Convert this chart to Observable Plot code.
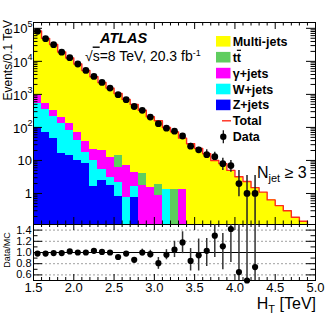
<!DOCTYPE html>
<html><head><meta charset="utf-8">
<script src="https://cdn.jsdelivr.net/npm/d3@7"></script>
<script src="https://cdn.jsdelivr.net/npm/@observablehq/plot@0.6"></script>
<style>
body{margin:0;background:#fff;}
#chart{position:relative;width:332px;height:320px;overflow:hidden;font-family:"Liberation Sans",Arial,sans-serif;background:#fff;}
#chart svg{position:absolute;left:0;display:block;overflow:visible;}
</style></head><body><div id="chart"></div>
<script>
// ---------- data ----------
const binEdges = [1.5,1.6,1.7,1.8,1.9,2.0,2.1,2.2,2.3,2.4,2.5,2.6,2.7,2.8,2.9,3.0,3.1,3.2,3.3,3.4,3.5,3.6,3.7,3.8,3.9,4.0,4.1,4.2,4.3,4.4,4.5,4.6,4.7,4.8,4.9,5.0];
const multijets = [81700,49100,32000,19000,12520,8230,5260,3380,2260,1538,1051,697,490,326,209,158,98,72,46,32,23,16,10,8,5,3.2,2.3,1.5,1.1,0.64,0.43,0.30,0.19,0.145,0.1];
const ttbar     = [0,0,0,0,0,0,0,0,0,0,7.7,0,0,2.25,0,1.05,0,1.3,0,0,0,0,0,0,0,0,0,0,0,0,0,0,0,0,0];
const gammajets = [405,180,115,67,49,28,20,12,14.5,9,4.1,6.2,2.7,1.75,1.55,0.85,0,0,1.3,0,0,0,0,0,0,0,0,0,0,0,0,0,0,0,0];
const wjets     = [423,273,170,114,67,30,10,8.4,3,1.4,1.4,0.77,0.8,0,0,0,1.3,0,0,0,0,0,0,0,0,0,0,0,0,0,0,0,0,0,0];
const zjets     = [102,72,45,16,14,10,8,1.6,2.5,1.7,0.8,0,0.78,0,0,0,0,0,0,0,0,0,0,0,0,0,0,0,0,0,0,0,0,0,0];

const dataHT     = [1.55,1.65,1.75,1.85,1.95,2.05,2.15,2.25,2.35,2.45,2.55,2.65,2.75,2.85,2.95,3.05,3.15,3.25,3.35,3.45,3.55,3.65,3.75,3.85,3.95,4.05,4.15,4.25];
const dataEvents = [81000,48600,32000,19000,12900,8300,5300,3500,2300,1550,980,690,430,330,205,130,95,77,55,27,21,15,13,8,7,2,1,1];
const dataErrHT  = [3.45,3.55,3.65,3.75,3.85,3.95,4.05,4.15,4.25];
const dataErrLo  = [22,17,12,10.5,5,4.4,0.8,0.01,0.01];
const dataErrHi  = [33,25,21,17.8,11.7,10,5,3.5,3.5];

const ratioValues = [0.98,0.98,0.99,0.99,1.02,1.0,1.0,1.03,1.01,1.0,0.92,0.98,0.87,1.0,0.97,0.81,0.96,1.05,1.18,0.85,0.95,1.03,1.30,1.11,1.42,0.65,0.5,0.74];
const ratioErrHT = [2.85,2.95,3.05,3.15,3.25,3.35,3.45,3.55,3.65,3.75,3.85,3.95,4.05,4.15,4.25];
const ratioErrLo = [0.94,0.90,0.70,0.87,0.91,0.98,0.67,0.67,0.75,0.91,0.69,0.82,0.3,0,0];
const ratioErrHi = [1.06,1.04,0.91,1.05,1.20,1.37,1.07,1.24,1.25,1.52,1.34,1.6,2,2,2];

const xTickLabels = ["1.5","2.0","2.5","3.0","3.5","4.0","4.5","5.0"];
const yTickValues = [1,10,100,1000,10000,100000];
const ratioTickLabels = ["0.6","0.8","1.0","1.2","1.4"];

const legendLabels = ["Multi-jets","tt","γ+jets","W+jets","Z+jets","Total","Data"];
const colors = {mj:"#ffff00", tt:"#5fcd5f", gj:"#ff00ff", wj:"#00ffff", zj:"#0000ff", total:"#ff2a1a"};

// ---------- layout ----------
const W = 332, mainH = 224, mL = 33, mR = 17, mT = 22;
const ratioH = 96, ratioPanel = 56;
const xDomain = [binEdges[0], binEdges[binEdges.length-1]];
const yDomain = [0.115, 1.5e5];
const rDomain = [0.5, 1.5];
const xPerPx = (xDomain[1]-xDomain[0])/(W-mL-mR);
const decPerPx = Math.log10(yDomain[1]/yDomain[0])/(mainH-mT);
const up = (v,px)=>v*Math.pow(10,px*decPerPx);
const rPerPx = (rDomain[1]-rDomain[0])/ratioPanel;

const xMajor = xTickLabels.map(Number);
const xAll = binEdges;
const xMinor = xAll.filter(v=>!xMajor.some(m=>Math.abs(m-v)<1e-9));
const yMinor = [];
[0.1,1,10,100,1000,10000,100000].forEach(d=>{for(let k=2;k<=9;k++){const v=d*k; if(v>yDomain[0]&&v<yDomain[1]) yMinor.push(v);}});
const rMajor = ratioTickLabels.map(Number);
const rMinor = [0.5,0.7,0.9,1.1,1.3,1.5];

// cumulative stacks
const n = multijets.length;
const cum1 = zjets.slice();
const cum2 = cum1.map((v,i)=>v+wjets[i]);
const cum3 = cum2.map((v,i)=>v+gammajets[i]);
const cum4 = cum3.map((v,i)=>v+ttbar[i]);
const total = cum4.map((v,i)=>v+multijets[i]);
const bins = d3.range(n).map(i=>({x1:binEdges[i], x2:binEdges[i+1], c1:cum1[i], c2:cum2[i], c3:cum3[i], c4:cum4[i], t:total[i]}));
const stepPts = [];
bins.forEach(b=>{stepPts.push({x:b.x1,y:b.t}); stepPts.push({x:b.x2,y:b.t});});

const layer = (key, fill)=>Plot.rect(bins.filter(b=>b[key]>0), {x1:"x1", x2:"x2", y1:()=>1e-4, y2:key, fill, clip:true, shapeRendering:"crispEdges"});

const dataPts = dataHT.map((x,i)=>({x, y:dataEvents[i], r:ratioValues[i]}));
const dataErr = dataErrHT.map((x,i)=>({x, lo:dataErrLo[i], hi:dataErrHi[i]}));
const ratioErr = ratioErrHT.map((x,i)=>({x, lo:ratioErrLo[i], hi:ratioErrHi[i]}));

const expLabels = yTickValues.filter(v=>v>=100);
const plainLabels = yTickValues.filter(v=>v<100);

const main = Plot.plot({
  width: W, height: mainH, marginLeft: mL, marginRight: mR, marginTop: mT, marginBottom: 0,
  style: {fontFamily: "'Liberation Sans', Arial, sans-serif", background: "transparent"},
  x: {domain: xDomain, axis: null},
  y: {type: "log", domain: yDomain, axis: null},
  marks: [
    Plot.rect(bins, {x1:"x1", x2:"x2", y1:()=>1e-4, y2:"t", fill: colors.mj, clip:true, shapeRendering:"crispEdges"}),
    layer("c4", colors.tt),
    layer("c3", colors.gj),
    layer("c2", colors.wj),
    layer("c1", colors.zj),
    Plot.line(stepPts, {x:"x", y:"y", stroke: colors.total, strokeWidth: 1.4, clip:true}),
    // ticks
    Plot.ruleX(xMinor, {x:d=>d, y1:yDomain[0], y2:up(yDomain[0],3.5), stroke:"black"}),
    Plot.ruleX(xMajor, {x:d=>d, y1:yDomain[0], y2:up(yDomain[0],7), stroke:"black"}),
    Plot.ruleX(xMinor, {x:d=>d, y1:yDomain[1], y2:up(yDomain[1],-3.5), stroke:"black"}),
    Plot.ruleX(xMajor, {x:d=>d, y1:yDomain[1], y2:up(yDomain[1],-7), stroke:"black"}),
    Plot.ruleY(yTickValues, {y:d=>d, x1:xDomain[0], x2:xDomain[0]+9*xPerPx, stroke:"black"}),
    Plot.ruleY(yMinor, {y:d=>d, x1:xDomain[0], x2:xDomain[0]+4.5*xPerPx, stroke:"black"}),
    Plot.ruleY(yTickValues, {y:d=>d, x1:xDomain[1], x2:xDomain[1]-9*xPerPx, stroke:"black"}),
    Plot.ruleY(yMinor, {y:d=>d, x1:xDomain[1], x2:xDomain[1]-4.5*xPerPx, stroke:"black"}),
    Plot.frame({stroke:"black", strokeWidth:1}),
    // data
    Plot.ruleX(dataErr, {x:"x", y1:"lo", y2:"hi", stroke:"#222", strokeWidth:1.5, clip:true}),
    Plot.dot(dataPts, {x:"x", y:"y", r:3.4, fill:"black", stroke:"none"}),
    // y labels
    Plot.text(plainLabels, {x:xDomain[0], y:d=>d, text:d=>String(d), textAnchor:"end", dx:-1.5, fontSize:13, fill:"black"}),
    Plot.text(expLabels, {x:xDomain[0], y:d=>d, text:()=>"10", textAnchor:"end", dx:-6, dy:1, fontSize:13, fill:"black"}),
    Plot.text(expLabels, {x:xDomain[0], y:d=>d, text:d=>String(Math.round(Math.log10(d))), textAnchor:"start", dx:-6, dy:-4, fontSize:9, fill:"black"})
  ]
});
main.style.top = "0px";

const ratio = Plot.plot({
  width: W, height: ratioH, marginLeft: mL, marginRight: mR, marginTop: 0, marginBottom: ratioH-ratioPanel,
  style: {fontFamily: "'Liberation Sans', Arial, sans-serif", background: "transparent"},
  x: {domain: xDomain, axis: null},
  y: {domain: rDomain, axis: null},
  marks: [
    Plot.ruleY(rMajor.filter(v=>v!==1), {y:d=>d, stroke:"#888", strokeDasharray:"2,2", strokeWidth:0.8}),
    Plot.ruleY([1], {y:d=>d, stroke:"black", strokeWidth:1.2}),
    Plot.ruleX(xMinor, {x:d=>d, y1:rDomain[0], y2:rDomain[0]+3*rPerPx, stroke:"black"}),
    Plot.ruleX(xMajor, {x:d=>d, y1:rDomain[0], y2:rDomain[0]+6*rPerPx, stroke:"black"}),
    Plot.ruleX(xMinor, {x:d=>d, y1:rDomain[1], y2:rDomain[1]-3*rPerPx, stroke:"black"}),
    Plot.ruleX(xMajor, {x:d=>d, y1:rDomain[1], y2:rDomain[1]-6*rPerPx, stroke:"black"}),
    Plot.ruleY(rMajor, {y:d=>d, x1:xDomain[0], x2:xDomain[0]+9*xPerPx, stroke:"black"}),
    Plot.ruleY(rMinor, {y:d=>d, x1:xDomain[0], x2:xDomain[0]+4.5*xPerPx, stroke:"black"}),
    Plot.ruleY(rMajor, {y:d=>d, x1:xDomain[1], x2:xDomain[1]-9*xPerPx, stroke:"black"}),
    Plot.ruleY(rMinor, {y:d=>d, x1:xDomain[1], x2:xDomain[1]-4.5*xPerPx, stroke:"black"}),
    Plot.frame({stroke:"black", strokeWidth:1}),
    Plot.ruleX(ratioErr, {x:"x", y1:"lo", y2:"hi", stroke:"#333", strokeWidth:1.5, clip:true}),
    Plot.dot(dataPts, {x:"x", y:"r", r:3.1, fill:"black", stroke:"none"}),
    Plot.text(ratioTickLabels, {x:xDomain[0], y:d=>Number(d), text:d=>d, textAnchor:"end", dx:-2, fontSize:11, fill:"black"}),
    Plot.text(xTickLabels, {x:d=>Number(d), y:rDomain[0], text:d=>d, textAnchor:"middle", dy:7.5, fontSize:13, fill:"black"})
  ]
});
ratio.style.top = mainH + "px";

const chart = document.getElementById("chart");
chart.appendChild(main);
chart.appendChild(ratio);

// ---------- overlay texts & legend ----------
const svg = d3.select(chart).append("svg").attr("width", W).attr("height", 320)
  .style("top","0px").style("pointer-events","none")
  .attr("font-family","'Liberation Sans', Arial, sans-serif");

svg.append("text").attr("x",100).attr("y",43).attr("font-size",14.5).attr("font-weight","bold").attr("font-style","italic").text("ATLAS");
const s = svg.append("text").attr("x",85).attr("y",60.5).attr("font-size",14);
s.append("tspan").text("√");
s.append("tspan").attr("text-decoration","overline").text("s");
s.append("tspan").text("=8 TeV, 20.3 fb");
s.append("tspan").attr("dy",-5).attr("font-size",9).text("-1");

// legend
const rowY = i=>41.3 + 15.9*i;
const fills = [colors.mj, colors.tt, colors.gj, colors.wj, colors.zj];
legendLabels.forEach((lab,i)=>{
  const cy = rowY(i);
  if (i<5) svg.append("rect").attr("x",216).attr("y",cy-5.3).attr("width",14.5).attr("height",10.6).attr("fill",fills[i]);
  else if (i===5) svg.append("line").attr("x1",222).attr("x2",231).attr("y1",cy).attr("y2",cy).attr("stroke",colors.total).attr("stroke-width",1.4);
  else {
    svg.append("line").attr("x1",223.3).attr("x2",223.3).attr("y1",cy-6.5).attr("y2",cy+6.5).attr("stroke","black").attr("stroke-width",1.2);
    svg.append("circle").attr("cx",223.3).attr("cy",cy).attr("r",3.2).attr("fill","black");
  }
  const t = svg.append("text").attr("x",232.7).attr("y",cy+4.5).attr("font-size",12.5).attr("font-weight","bold");
  if (i===1) {
    t.append("tspan").text("t");
    t.append("tspan").attr("text-decoration","overline").text("t");
  } else t.text(lab);
});

const nj = svg.append("text").attr("x",257).attr("y",178).attr("font-size",16);
nj.append("tspan").text("N");
nj.append("tspan").attr("dy",4).attr("font-size",11).text("jet");
nj.append("tspan").attr("dy",-4).attr("font-size",16).text(" ≥ 3");

const ht = svg.append("text").attr("x",316).attr("y",309).attr("font-size",16).attr("text-anchor","end");
ht.append("tspan").text("H");
ht.append("tspan").attr("dy",3.5).attr("font-size",11).text("T");
ht.append("tspan").attr("dy",-3.5).attr("font-size",16).text(" [TeV]");

svg.append("text").attr("transform","translate(11.5,20) rotate(-90)").attr("text-anchor","end").attr("font-size",12).text("Events/0.1 TeV");
svg.append("text").attr("transform","translate(10,250) rotate(-90)").attr("text-anchor","middle").attr("font-size",9).text("Data/MC");
</script></body></html>
